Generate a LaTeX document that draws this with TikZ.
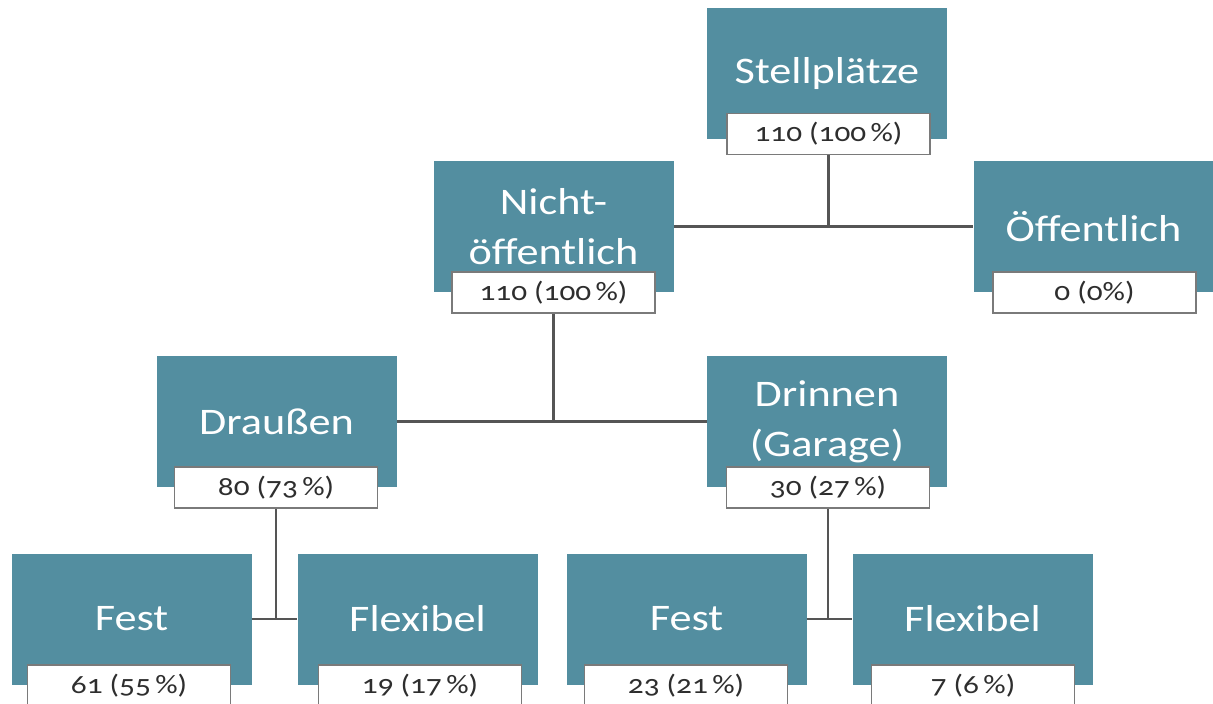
\documentclass[tikz,border=0pt]{standalone}
\usepackage{fontspec}
\setmainfont{Carlito}[Numbers=OldStyle,FakeStretch=1.18]
\definecolor{tealbox}{HTML}{538EA0}
\definecolor{lblborder}{HTML}{7A7A7A}
\definecolor{conn}{HTML}{555555}
\definecolor{lbltext}{HTML}{2E2E2E}
\begin{document}
\begin{tikzpicture}[x=1pt,y=-1pt,
  tbox/.style={fill=tealbox,draw=none,minimum width=240pt,minimum height=131pt,inner sep=0pt,
    text=white,align=center,font=\fontsize{37.5}{50}\selectfont},
  lbox/.style={fill=white,draw=lblborder,line width=1.5pt,minimum width=203pt,minimum height=41pt,
    inner sep=0pt,text=lbltext,font=\fontsize{26.5}{30}\selectfont},
  link/.style={draw=conn,line width=2.2pt}]
\useasboundingbox (0,0) rectangle (1213,704);
% boxes
\node[tbox] (S) at (827,73.5) {Stellplätze};
\node[tbox] (N) at (553.5,226.5) {Nicht-\\öffentlich};
\node[tbox] (O) at (1093.5,226.5) {Öffentlich};
\node[tbox] (D) at (276.5,421.5) {Draußen};
\node[tbox] (I) at (827,421.5) {Drinnen\\(Garage)};
\node[tbox] (F1) at (131.5,619) {Fest};
\node[tbox] (X1) at (417.5,619) {Flexibel};
\node[tbox] (F2) at (686.5,619) {Fest};
\node[tbox] (X2) at (972.5,619) {Flexibel};
% labels
\node[lbox] (Sl) at (828.5,134) {110 (100\,\%)};
\node[lbox] (Nl) at (553.5,292.5) {110 (100\,\%)};
\node[lbox] (Ol) at (1094.5,292.5) {0 (0\%)};
\node[lbox] (Dl) at (276,487.5) {80 (73\,\%)};
\node[lbox] (Il) at (828,487.5) {30 (27\,\%)};
\node[lbox] (F1l) at (129,685.5) {61 (55\,\%)};
\node[lbox] (X1l) at (420,685.5) {19 (17\,\%)};
\node[lbox] (F2l) at (686,685.5) {23 (21\,\%)};
\node[lbox] (X2l) at (973,685.5) {7 (6\,\%)};
% connectors
\coordinate (j1) at (Sl.south |- N.east);
\coordinate (j2) at (Nl.south |- D.east);
\coordinate (j3) at (Dl.south |- F1.east);
\coordinate (j4) at (Il.south |- F2.east);
\draw[link] (Sl.south) -- (j1);
\draw[link] (N.east) -- (O.west);
\draw[link] (Nl.south) -- (j2);
\draw[link] (D.east) -- (I.west);
\draw[link] (Dl.south) -- (j3);
\draw[link] (F1.east) -- (X1.west);
\draw[link] (Il.south) -- (j4);
\draw[link] (F2.east) -- (X2.west);
\end{tikzpicture}
\end{document}
